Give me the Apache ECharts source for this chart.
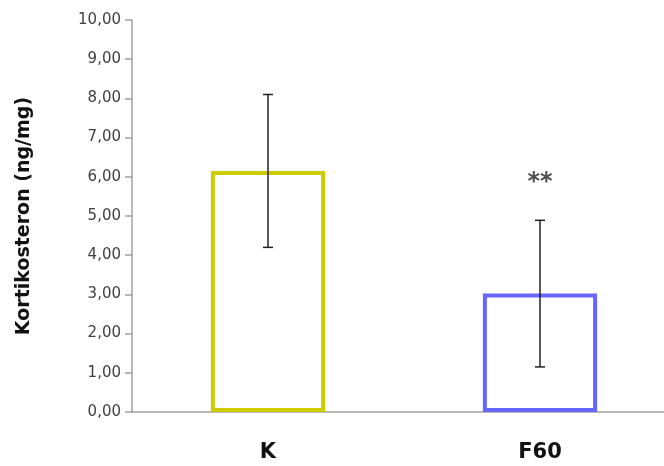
<!DOCTYPE html>
<html><head><meta charset="utf-8">
<script src="https://cdn.jsdelivr.net/npm/echarts@6/dist/echarts.min.js"></script>
<style>html,body{margin:0;padding:0;background:#fff}#c{width:664px;height:466px}</style>
</head><body><div id="c"></div>
<script>
var categories = ['K', 'F60'];
var means = [6.15, 3.02];
var sds = [1.95, 1.87];
var significance = ['', '**'];
var sigPositions = [null, 5.84];
var yTicks = [0, 1, 2, 3, 4, 5, 6, 7, 8, 9, 10];
var barColors = ['#cccc00', '#6666ff'];

var chart = echarts.init(document.getElementById('c'));
var errData = categories.map(function (c, i) { return [i, means[i] - sds[i], means[i] + sds[i]]; });
var sigData = categories.map(function (c, i) { return sigPositions[i] == null ? null : [i, sigPositions[i], significance[i]]; }).filter(Boolean);

chart.setOption({
  animation: false,
  grid: { left: 132, top: 20, bottom: 54, width: 544, outerBoundsMode: 'none', containLabel: false },
  xAxis: {
    type: 'category', data: categories,
    axisLine: { lineStyle: { color: '#a0a0a0', width: 1.5 } },
    axisTick: { show: false },
    axisLabel: { margin: 30, color: '#111', fontSize: 21, fontWeight: 'bold', fontFamily: 'DejaVu Sans' }
  },
  yAxis: {
    type: 'value', min: yTicks[0], max: yTicks[yTicks.length - 1], interval: 1,
    name: 'Kortikosteron (ng/mg)', nameLocation: 'middle', nameGap: 98,
    nameTextStyle: { fontSize: 19, fontWeight: 'bold', color: '#111', fontFamily: 'DejaVu Sans' },
    axisLine: { show: true, lineStyle: { color: '#a0a0a0', width: 1.5 } },
    axisTick: { show: true, length: 7, lineStyle: { color: '#a0a0a0', width: 1.5 } },
    splitLine: { show: false },
    axisLabel: {
      margin: 11, color: '#404040', fontSize: 15, fontFamily: 'DejaVu Sans',
      formatter: function (v) { return v.toFixed(2).replace('.', ','); }
    }
  },
  series: [
    {
      type: 'bar', barWidth: '42%',
      data: means.map(function (v, i) {
        return { value: v, itemStyle: { color: '#ffffff', borderColor: barColors[i], borderWidth: 4 } };
      })
    },
    {
      type: 'custom', z: 10,
      data: errData,
      renderItem: function (params, api) {
        var x = api.coord([api.value(0), 0])[0];
        var lo = api.coord([api.value(0), api.value(1)])[1];
        var hi = api.coord([api.value(0), api.value(2)])[1];
        var s = { stroke: '#222', lineWidth: 1.5 };
        return { type: 'group', children: [
          { type: 'line', shape: { x1: x, y1: lo, x2: x, y2: hi }, style: s },
          { type: 'line', shape: { x1: x - 5, y1: lo, x2: x + 5, y2: lo }, style: s },
          { type: 'line', shape: { x1: x - 5, y1: hi, x2: x + 5, y2: hi }, style: s }
        ] };
      }
    },
    {
      type: 'scatter', symbolSize: 0,
      data: sigData,
      label: {
        show: true, position: 'inside', color: '#222', fontSize: 24, fontWeight: 'bold', fontFamily: 'DejaVu Sans',
        formatter: function (p) { return p.data[2]; }
      }
    }
  ]
});
</script></body></html>
